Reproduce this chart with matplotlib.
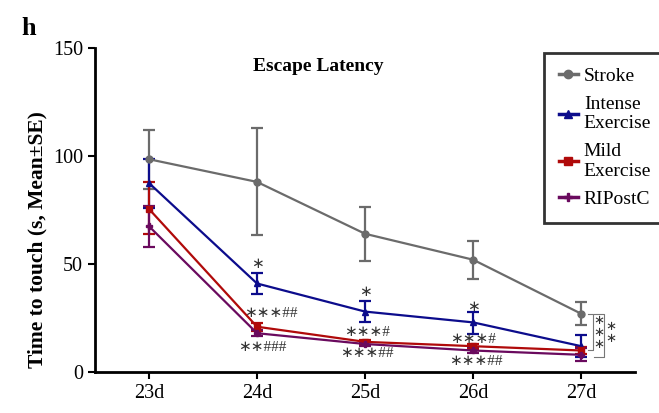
import matplotlib.pyplot as plt
from matplotlib.lines import Line2D

plt.rcParams['font.family'] = ['Liberation Serif', 'DejaVu Serif']

days = ['23d', '24d', '25d', '26d', '27d']

stroke = [98.5, 88, 64, 52, 27]
stroke_lo = [84.5, 63.5, 51.5, 43, 22]
stroke_hi = [112, 113, 76.5, 60.5, 32.5]

intense = [87.5, 41, 28, 23, 12]
intense_lo = [76, 36, 23, 17.5, 7]
intense_hi = [98.5, 46, 33, 28, 17]

mild = [75.5, 21, 14, 12, 10]
mild_lo = [64, 19, 12.5, 10.5, 8.5]
mild_hi = [88, 22.5, 15, 13, 11.5]

ripostc = [67.5, 18, 13, 10, 8]
ripostc_lo = [58, 16.5, 12, 9, 5]
ripostc_hi = [77, 19.5, 14, 11.5, 11]

series = [
    ('Stroke', stroke, stroke_lo, stroke_hi, '#6b6b6b', 'o'),
    ('Intense\nExercise', intense, intense_lo, intense_hi, '#0c0c8c', '^'),
    ('Mild\nExercise', mild, mild_lo, mild_hi, '#b00a0a', 's'),
    ('RIPostC', ripostc, ripostc_lo, ripostc_hi, '#6a0a5e', 'P'),
]

# significance labels: (x, y, text)
marks = [
    (1, 50, '*'), (2, 37, '*'), (3, 30, '*'),
    (1.13, 27, '***##'), (1.05, 11.3, '**###'),
    (2.02, 18.3, '***#'), (2.02, 8.8, '***##'),
    (3.0, 15, '***#'), (3.02, 4.8, '***##'),
]

fig = plt.figure(figsize=(6.59, 4.13), dpi=100)
ax = fig.add_axes([0.144, 0.099, 0.82, 0.785])

x = list(range(len(days)))
handles = []
for name, vals, lo, hi, color, mk in series:
    err = [[v - l for v, l in zip(vals, lo)], [h - v for v, h in zip(vals, hi)]]
    ax.errorbar(x, vals, yerr=err, color=color, marker=mk, markersize=5,
                linewidth=1.6, elinewidth=1.6, capsize=4, capthick=1.6)
    handles.append(Line2D([], [], color=color, marker=mk, markersize=6, linewidth=2.5, label=name))

ast = ['DejaVu Sans']
for xi, yi, t in marks:
    ax.text(xi, yi, t.replace('*', '\u2217'), ha='center', va='center', fontsize=11,
            color='#333333', family=['Liberation Serif', 'DejaVu Sans'])

# brackets at 27d
ax.plot([4.065, 4.11, 4.11, 4.065], [27, 27, 10, 10], color='#777777', lw=0.8)
ax.plot([4.12, 4.21, 4.21, 4.12], [27, 27, 7, 7], color='#777777', lw=0.8)
for yy in [24, 18.5, 13]:
    ax.text(4.165, yy, '\u2217', ha='center', va='center', fontsize=9.5, color='#333333', family=ast)
for yy in [21, 15.5]:
    ax.text(4.275, yy, '\u2217', ha='center', va='center', fontsize=9.5, color='#333333', family=ast)

ax.set_xlim(-0.5, 4.5)
ax.set_ylim(0, 150)
ax.set_yticks([0, 50, 100, 150])
ax.set_xticks(x)
ax.set_xticklabels(days)
ax.tick_params(labelsize=14.5, width=1.5, length=5, direction='out')
for s in ['top', 'right']:
    ax.spines[s].set_visible(False)
for s in ['left', 'bottom']:
    ax.spines[s].set_linewidth(2)

ax.set_ylabel('Time to touch (s, Mean\u00b1SE)', fontsize=15.5, fontweight='bold')
ax.yaxis.set_label_coords(-0.088, 0.41)
ax.text(0.413, 0.944, 'Escape Latency', transform=ax.transAxes, ha='center', va='center',
        fontsize=14, fontweight='bold')
fig.text(0.033, 0.932, 'h', fontsize=19, fontweight='bold', ha='left', va='center')

leg = fig.legend(handles=handles, loc='upper left', bbox_to_anchor=(0.8255, 0.8717), fontsize=14,
                 frameon=True, fancybox=False, handlelength=1.0, handletextpad=0.3,
                 borderpad=0.75, labelspacing=0.55, borderaxespad=0)
leg.get_frame().set_edgecolor('black')
leg.get_frame().set_linewidth(2)
for t in leg.get_texts():
    t.set_linespacing(1.2)

fig.savefig('out.png', dpi=100)
